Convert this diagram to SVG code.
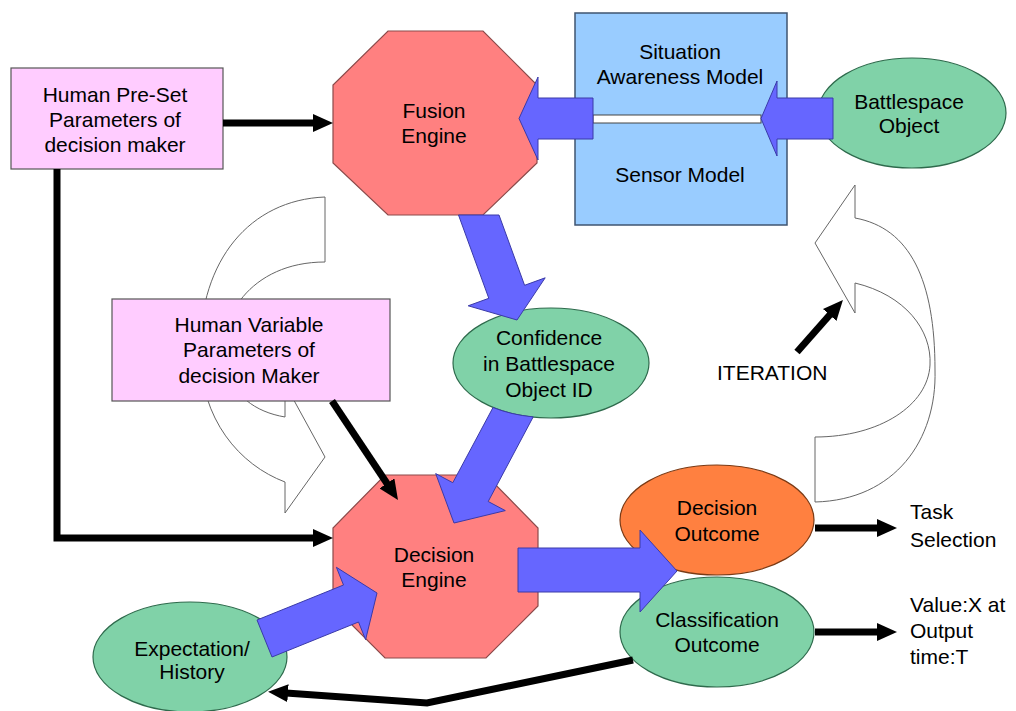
<svg xmlns="http://www.w3.org/2000/svg" width="1016" height="711" viewBox="0 0 1016 711">
<defs>
<style>
text{font-family:"Liberation Sans",Arial,sans-serif;font-size:21px;fill:#000;}
.c{text-anchor:middle;}
.pink{fill:#FFCCFF;stroke:#555;stroke-width:1.2;}
.oct{fill:#FF8080;stroke:#8B4A4A;stroke-width:1.2;}
.sa{fill:#99CCFF;stroke:#3F5470;stroke-width:1.5;}
.green{fill:#80D2A8;stroke:#2E6A4C;stroke-width:1.2;}
.orange{fill:#FF8040;stroke:#7A3A15;stroke-width:1.2;}
.curve{fill:#fff;stroke:#666;stroke-width:1;}
.blk{fill:none;stroke:#000;stroke-width:7;marker-end:url(#ah);}
.blue{fill:#6666FF;stroke:#3A3AA8;stroke-width:1;}
</style>
<marker id="ah" viewBox="0 0 20 18" refX="2" refY="9" markerWidth="20" markerHeight="18" markerUnits="userSpaceOnUse" orient="auto"><path d="M0,0 L20,9 L0,18 Z" fill="#000"/></marker>
</defs>
<rect x="0" y="0" width="1016" height="711" fill="#fff"/>

<g id="curved-arrow-left">
<path class="curve" d="M325,197 L325,262 C250,262 215,320 225,365 C232,395 255,412 285,417 L285,384 L325,457 L285,513 L285,482 C240,465 200,420 200,350 C200,260 250,200 325,197 Z"/>
</g>
<g id="curved-arrow-iteration">
<path class="curve" d="M855,185 L815,243 L855,313 L855,283 C905,295 932,330 930,365 C928,405 880,437 815,437 L815,502 C895,500 937,440 935,370 C935,280 910,228 855,218 Z"/>
</g>

<g id="human-preset">
<rect class="pink" x="11" y="68" width="212" height="101"/>
<text class="c" x="115" y="102">Human Pre-Set</text>
<text class="c" x="115" y="127">Parameters of</text>
<text class="c" x="115" y="152">decision maker</text>
</g>

<g id="human-variable">
<rect class="pink" x="112" y="299" width="278" height="102"/>
<text class="c" x="249" y="332">Human Variable</text>
<text class="c" x="249" y="357">Parameters of</text>
<text class="c" x="249" y="383">decision Maker</text>
</g>

<g id="fusion-engine">
<polygon class="oct" points="388,31 483,31 537,85 537,163 483,215 388,215 333,163 333,85"/>
<text class="c" x="434" y="118">Fusion</text>
<text class="c" x="434" y="143">Engine</text>
</g>

<g id="sa-sensor-model">
<rect class="sa" x="575" y="13" width="212" height="212"/>
<rect x="593" y="115" width="168" height="8" fill="#fff" stroke="#444" stroke-width="1"/>
<text class="c" x="680" y="59">Situation</text>
<text class="c" x="680" y="84">Awareness Model</text>
<text class="c" x="680" y="182">Sensor Model</text>
</g>

<g id="battlespace-object">
<ellipse class="green" cx="912" cy="113" rx="94" ry="55"/>
<text class="c" x="909" y="109">Battlespace</text>
<text class="c" x="909" y="133">Object</text>
</g>

<g id="confidence">
<ellipse class="green" cx="551" cy="363" rx="98" ry="55"/>
<text class="c" x="549" y="345">Confidence</text>
<text class="c" x="549" y="371">in Battlespace</text>
<text class="c" x="549" y="397">Object ID</text>
</g>

<g id="decision-engine">
<polygon class="oct" points="385,475 486,475 538,528 538,606 486,658 385,658 333,606 333,528"/>
<text class="c" x="434" y="562">Decision</text>
<text class="c" x="434" y="587">Engine</text>
</g>

<g id="decision-outcome">
<ellipse class="orange" cx="717" cy="520" rx="97" ry="55"/>
<text class="c" x="717" y="515">Decision</text>
<text class="c" x="717" y="541">Outcome</text>
</g>

<g id="classification-outcome">
<ellipse class="green" cx="717" cy="632" rx="97" ry="55"/>
<text class="c" x="717" y="627">Classification</text>
<text class="c" x="717" y="652">Outcome</text>
</g>

<g id="expectation-history">
<ellipse class="green" cx="190" cy="657" rx="97" ry="55"/>
<text class="c" x="192" y="656">Expectation/</text>
<text class="c" x="192" y="679">History</text>
</g>

<g id="task-selection">
<text x="910" y="519">Task</text>
<text x="910" y="547">Selection</text>
</g>

<g id="value-output">
<text x="910" y="612">Value:X at</text>
<text x="910" y="638">Output</text>
<text x="910" y="664">time:T</text>
</g>

<g id="iteration-label">
<text x="717" y="380">ITERATION</text>
</g>

<g id="connectors">
<path class="blk" d="M223,123 H315"/>
<path class="blk" d="M57,169 V538 H315"/>
<path class="blk" d="M332,401 L388,485"/>
<path class="blk" d="M815,528 H879"/>
<path class="blk" d="M815,632 H879"/>
<path class="blk" d="M797,352 L831,313.5"/>
<path class="blk" d="M633,660 L427,703 L286,693"/>
<polygon class="blue" points="593,98 538,98 538,77 519,118.5 538,160 538,139 593,139"/>
<polygon class="blue" points="833,98 777,98 777,81 761,118.5 777,156 777,139 833,139"/>
<polygon class="blue" points="458.5,215 499,215 524.6,285.3 545.2,277.8 517,320 468.2,305.8 488.8,298.3"/>
<path class="blue" d="M493,407.5 L452.8,482.7 L435.7,473.6 L454,523 L505.3,510.6 L488.2,501.5 L533.2,416.9 A98 55 0 0 1 493,407.5 Z"/>
<polygon class="blue" points="518,548 640,548 640,530 677,571 640,612 640,592 518,592"/>
<polygon class="blue" points="257,620 343.5,585 336.4,567.3 377,593 365.6,639.7 358.5,622 272,657"/>
</g>
</svg>
